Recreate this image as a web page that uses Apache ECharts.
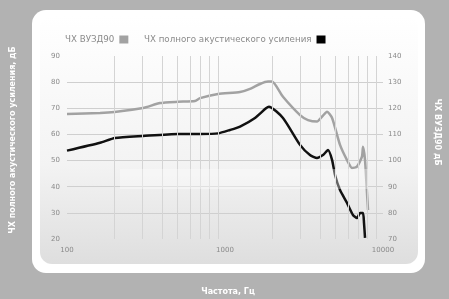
<!DOCTYPE html>
<html style="height: 100%">
  <head>
    <meta charset="utf-8" />
  </head>
  <body style="height: 100%; margin: 0">
    <div id="container" style="height: 100%"></div>

    <script
      type="text/javascript"
      src="https://cdn.jsdelivr.net/npm/echarts@6/dist/echarts.min.js"
    ></script>

    <script type="text/javascript">
      // ЧХ ВУЗД90 (right axis, dB)
      var grayFreq = [100, 162, 200, 303, 388, 504, 646, 695, 903, 1245, 1440, 1666, 1872, 1984,
        2328, 2985, 3351, 3822, 4113, 4426, 4763, 5346, 5920, 6365, 6845, 7360, 7470, 7695, 7920, 8040];
      var grayDb = [117.8, 118.2, 118.6, 120.1, 122, 122.5, 122.8, 123.9, 125.5, 126.2, 127.4, 129.3, 130.2, 130.2,
        124.4, 117.4, 115.5, 114.9, 116.8, 118.7, 116.3, 106.0, 100.2, 97.2, 97.7, 101.5, 105.3, 100.2, 87.6, 81.1];

      // ЧХ полного акустического усиления (left axis, dB)
      var blackFreq = [100, 162, 201, 303, 504, 695, 903, 1076, 1245, 1548, 1818, 1897, 2328, 2985,
        3450, 3822, 4170, 4488, 4763, 4970, 5346, 5920, 6456, 6845, 7150, 7470, 7583, 7695];
      var blackDb = [53.8, 56.8, 58.6, 59.4, 60.2, 60.2, 60.4, 61.7, 63, 66.3, 70, 70.6, 66.3, 56,
        52.1, 51, 52.1, 54, 50.2, 44.5, 38.7, 33.8, 29.2, 28, 29.9, 29.9, 26.1, 20.4];

      var gridFreqs = [200, 300, 400, 500, 600, 700, 800, 900,
        2000, 3000, 4000, 5000, 6000, 7000, 8000, 9000];

      var seriesNames = ["ЧХ ВУЗД90", "ЧХ полного акустического усиления"];

      function pairs(xs, ys) {
        return xs.map(function (x, i) { return [x, ys[i]]; });
      }

      var dom = document.getElementById("container");
      var myChart = echarts.init(dom);

      var fontFamily = "DejaVu Sans";
      var hLine = "#cfcfcf";

      function legendAt(left, name) {
        return {
          left: left,
          top: 30,
          align: "right",
          icon: "rect",
          itemWidth: 9,
          itemHeight: 8,
          textStyle: { color: "#8a8a8a", fontSize: 8.7 },
          data: [name]
        };
      }

      option = {
        backgroundColor: "#b2b2b2",
        animation: false,
        textStyle: { fontFamily: fontFamily },
        graphic: [
          {
            type: "rect",
            z: -10,
            shape: { x: 32, y: 10, width: 393, height: 263, r: 14 },
            style: { fill: "#ffffff" }
          },
          {
            type: "rect",
            z: -9,
            shape: { x: 40, y: 16, width: 378, height: 248, r: 12 },
            style: {
              fill: new echarts.graphic.LinearGradient(0, 0, 0, 1, [
                { offset: 0, color: "#ffffff" },
                { offset: 0.6, color: "#f3f3f3" },
                { offset: 1, color: "#dedede" }
              ])
            }
          },
          {
            type: "rect",
            z: 100,
            shape: { x: 120, y: 169, width: 248, height: 20 },
            style: { fill: "rgba(255,255,255,0.35)" }
          },
          {
            type: "text",
            x: 13,
            y: 140,
            rotation: Math.PI / 2,
            style: {
              text: "ЧХ полного акустического усиления, дБ",
              fill: "#ffffff",
              font: "bold 8px " + fontFamily,
              align: "center",
              verticalAlign: "middle"
            }
          },
          {
            type: "text",
            x: 437,
            y: 132,
            rotation: -Math.PI / 2,
            style: {
              text: "ЧХ ВУЗД90 дБ",
              fill: "#ffffff",
              font: "bold 8px " + fontFamily,
              align: "center",
              verticalAlign: "middle"
            }
          },
          {
            type: "text",
            x: 228,
            y: 292,
            style: {
              text: "Частота, Гц",
              fill: "#ffffff",
              font: "bold 8px " + fontFamily,
              align: "center",
              verticalAlign: "middle"
            }
          }
        ],
        legend: [legendAt(60, seriesNames[0]), legendAt(139, seriesNames[1])],
        grid: {
          left: 67,
          right: 66,
          top: 56,
          bottom: 60
        },
        xAxis: {
          type: "log",
          logBase: 10,
          min: 100,
          max: 10000,
          axisLine: { show: false },
          axisTick: { show: false },
          splitLine: { show: false },
          axisLabel: {
            color: "#8a8a8a",
            fontSize: 7,
            margin: 8,
            formatter: function (v) { return String(Math.round(v)); }
          }
        },
        yAxis: [
          {
            type: "value",
            min: 20,
            max: 90,
            interval: 10,
            axisLine: { show: false },
            axisTick: { show: false },
            axisLabel: { color: "#8a8a8a", fontSize: 7, margin: 7 },
            splitLine: {
              lineStyle: {
                color: ["rgba(0,0,0,0)", hLine, hLine, hLine, hLine, hLine, hLine, "rgba(0,0,0,0)"],
                width: 1
              }
            }
          },
          {
            type: "value",
            min: 70,
            max: 140,
            interval: 10,
            position: "right",
            axisLine: { show: false },
            axisTick: { show: false },
            axisLabel: { color: "#8a8a8a", fontSize: 7, margin: 5 },
            splitLine: { show: false }
          }
        ],
        series: [
          {
            name: seriesNames[0],
            type: "line",
            yAxisIndex: 1,
            smooth: 0.2,
            showSymbol: false,
            color: "#a2a2a2",
            lineStyle: { width: 2.5, color: "#a2a2a2" },
            data: pairs(grayFreq, grayDb),
            markLine: {
              silent: true,
              symbol: "none",
              label: { show: false },
              lineStyle: { color: "#d4d4d4", width: 1, type: "solid" },
              data: gridFreqs.map(function (f) { return { xAxis: f }; })
            },
            z: 3
          },
          {
            name: seriesNames[1],
            type: "line",
            yAxisIndex: 0,
            smooth: 0.2,
            showSymbol: false,
            color: "#000000",
            lineStyle: { width: 2.5, color: "#111111" },
            data: pairs(blackFreq, blackDb),
            z: 4
          }
        ]
      };

      option && myChart.setOption(option);
    </script>
  </body>
</html>
